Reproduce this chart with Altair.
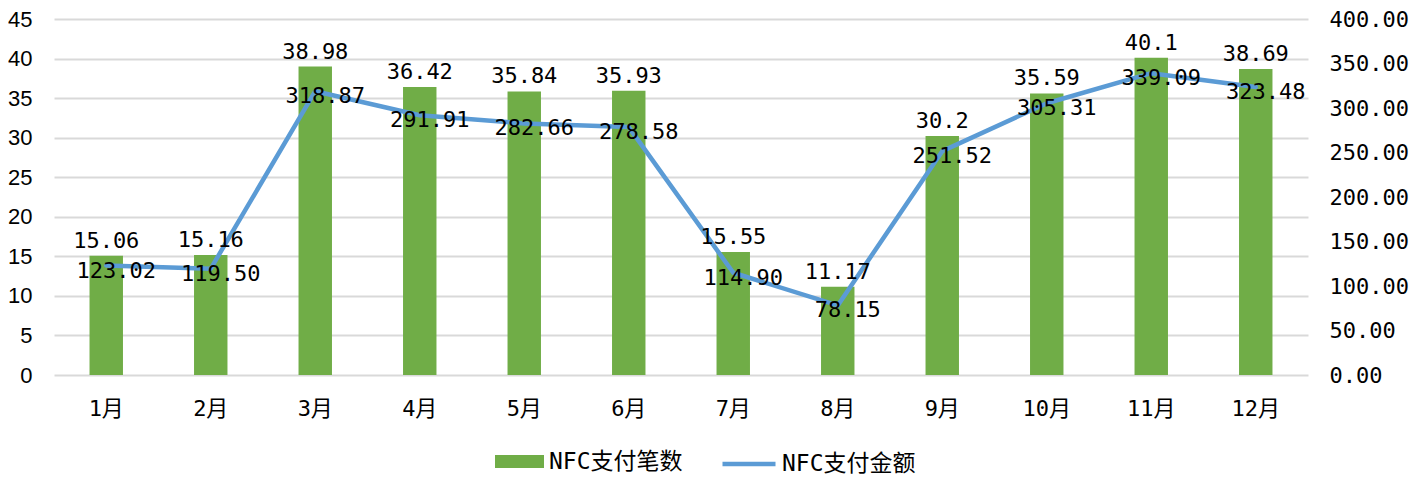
import altair as alt
import pandas as pd

months = ["1月", "2月", "3月", "4月", "5月", "6月", "7月", "8月", "9月", "10月", "11月", "12月"]
counts = [15.06, 15.16, 38.98, 36.42, 35.84, 35.93, 15.55, 11.17, 30.2, 35.59, 40.1, 38.69]
amounts = [123.02, 119.50, 318.87, 291.91, 282.66, 278.58, 114.90, 78.15, 251.52, 305.31, 339.09, 323.48]
bar_name = "NFC支付笔数"
line_name = "NFC支付金额"

df = pd.DataFrame({
    "month": months,
    "count": counts,
    "amount": amounts,
    "count_label": [str(v) for v in counts],
    "amount_label": [f"{v:.2f}" for v in amounts],
    "bar_series": [bar_name] * len(months),
    "line_series": [line_name] * len(months),
})

MONO = "DejaVu Sans Mono, Noto Sans CJK SC"
GREEN = "#70AD47"
BLUE = "#5B9BD5"

x = alt.X(
    "month:N",
    sort=months,
    scale=alt.Scale(paddingInner=0.68, paddingOuter=0.34),
    axis=alt.Axis(title=None, labelAngle=0, ticks=False, domain=False,
                  labelFont=MONO, labelFontSize=22, labelPadding=33,
                  labelBaseline="middle", labelColor="#000"),
)

y_left = alt.Y(
    "count:Q",
    scale=alt.Scale(domain=[0, 45]),
    axis=alt.Axis(values=list(range(0, 50, 5)), title=None, ticks=False, domain=False,
                  grid=True, gridColor="#D9D9D9", gridWidth=2,
                  labelFont="Liberation Sans, Arial", labelFontSize=22,
                  labelPadding=22, labelColor="#000"),
)

y_right = alt.Y(
    "amount:Q",
    scale=alt.Scale(domain=[0, 400]),
    axis=alt.Axis(orient="right", values=list(range(0, 450, 50)), format=".2f",
                  title=None, ticks=False, domain=False, grid=False,
                  labelFont=MONO, labelFontSize=22, labelPadding=21, labelColor="#000"),
)

bars = alt.Chart(df).mark_bar().encode(
    x=x,
    y=y_left,
    fill=alt.Fill(
        "bar_series:N",
        scale=alt.Scale(domain=[bar_name], range=[GREEN]),
        legend=alt.Legend(title=None, orient="none", legendX=441, legendY=418,
                          symbolType="M-1,-0.265L1,-0.265L1,0.265L-1,0.265Z",
                          symbolSize=2401, symbolStrokeWidth=0,
                          labelFont=MONO, labelFontSize=23, labelColor="#000",
                          labelOffset=5, padding=0),
    ),
)

bar_text = alt.Chart(df).mark_text(baseline="bottom", dy=-3, font=MONO, fontSize=22, color="#000").encode(
    x=alt.X("month:N", sort=months),
    y=alt.Y("count:Q", scale=alt.Scale(domain=[0, 45]), axis=None),
    text="count_label:N",
)

line = alt.Chart(df).mark_line(strokeWidth=4.5, strokeCap="round", strokeJoin="round").encode(
    x=alt.X("month:N", sort=months),
    y=y_right,
    stroke=alt.Stroke(
        "line_series:N",
        scale=alt.Scale(domain=[line_name], range=[BLUE]),
        legend=alt.Legend(title=None, orient="none", legendX=666, legendY=416,
                          symbolType="stroke", symbolSize=2809, symbolStrokeWidth=4.5,
                          labelFont=MONO, labelFontSize=23, labelColor="#000",
                          labelOffset=4, padding=0),
    ),
)

line_text = alt.Chart(df).mark_text(baseline="middle", dx=10, dy=5, font=MONO, fontSize=22, color="#000").encode(
    x=alt.X("month:N", sort=months),
    y=alt.Y("amount:Q", scale=alt.Scale(domain=[0, 400]), axis=None),
    text="amount_label:N",
)

chart = alt.layer(bars, line, bar_text, line_text).resolve_scale(
    y="independent"
).properties(
    width=1254,
    height=356,
    padding={"left": 46, "top": 11, "right": 111, "bottom": 103},
    autosize=alt.AutoSizeParams(type="none"),
    background="white",
).configure_view(stroke=None)

chart.save("out.html", embed_options={"renderer": "svg", "actions": False})
